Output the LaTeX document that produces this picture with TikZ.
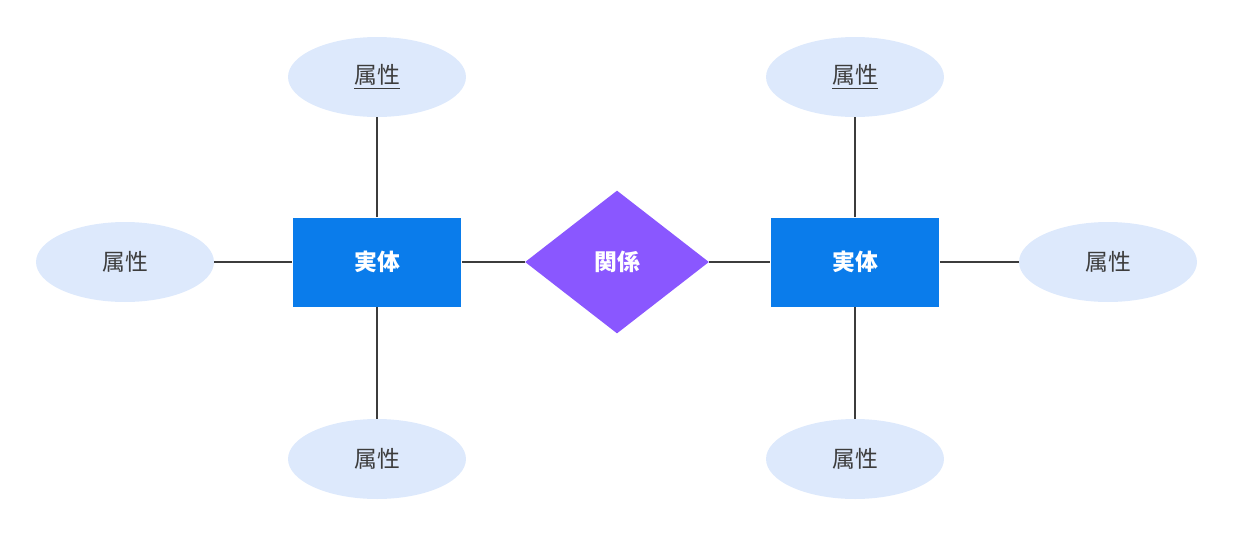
\documentclass[tikz,border=0pt]{standalone}
\usepackage{fontspec}
\setmainfont{Noto Sans CJK JP}
\usetikzlibrary{shapes.geometric}
\definecolor{entblue}{HTML}{0A7CEB}
\definecolor{relviolet}{HTML}{8A57FF}
\definecolor{attrblue}{HTML}{DDE9FC}
\definecolor{linegray}{HTML}{3C3C3C}
\tikzset{
  entity/.style={draw=none,fill=entblue,minimum width=3.38cm,minimum height=1.78cm,
    text=white,font=\fontsize{13pt}{15pt}\selectfont\bfseries},
  relation/.style={diamond,aspect=1.287,fill=relviolet,inner sep=0pt,
    minimum width=3.68cm,minimum height=2.86cm,
    text=white,font=\fontsize{13pt}{15pt}\selectfont\bfseries},
  attr/.style={ellipse,fill=attrblue,inner sep=0pt,minimum width=3.56cm,
    minimum height=1.6cm,text=linegray,font=\fontsize{13pt}{15pt}\selectfont},
  link/.style={draw=linegray,line width=1.2pt}
}
\begin{document}
\begin{tikzpicture}[x=0.02cm,y=-0.02cm]
      \useasboundingbox (0,0) rectangle (1233,535);

      % entities and relation
      \node[entity]   (ent1) at (377,262) {実体};
      \node[relation] (rel)  at (617,262) {関係};
      \node[entity]   (ent2) at (855,262) {実体};

      % attributes
      \node[attr] (a1top)   at (377,77)  {\underline{属性}};
      \node[attr] (a1left)  at (125,262) {属性};
      \node[attr] (a1bot)   at (377,459) {属性};
      \node[attr] (a2top)   at (855,77)  {\underline{属性}};
      \node[attr] (a2right) at (1108,262) {属性};
      \node[attr] (a2bot)   at (855,459) {属性};

      \draw[link] (ent1) -- (rel);
      \draw[link] (rel) -- (ent2);
      \draw[link] (ent1) -- (a1top);
      \draw[link] (ent1) -- (a1left);
      \draw[link] (ent1) -- (a1bot);
      \draw[link] (ent2) -- (a2top);
      \draw[link] (ent2) -- (a2right);
      \draw[link] (ent2) -- (a2bot);
\end{tikzpicture}
\end{document}
